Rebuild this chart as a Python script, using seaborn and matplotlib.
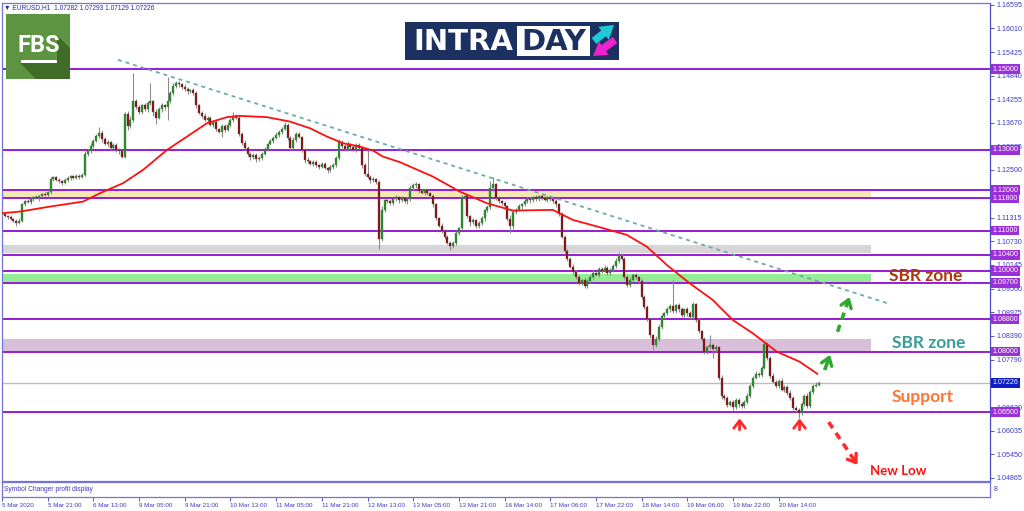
import numpy as np
import pandas as pd
import matplotlib
matplotlib.use("Agg")
import matplotlib.pyplot as plt
import seaborn as sns
from matplotlib.patches import Rectangle, Polygon

# ==================================
# data (EURUSD H1, prices in pips = price * 10000)
# ==================================
x_labels = ["5 Mar 2020", "5 Mar 21:00", "6 Mar 13:00", "9 Mar 05:00", "9 Mar 21:00",
            "10 Mar 13:00", "11 Mar 05:00", "11 Mar 21:00", "12 Mar 13:00", "13 Mar 05:00",
            "13 Mar 21:00", "16 Mar 14:00", "17 Mar 06:00", "17 Mar 22:00", "18 Mar 14:00",
            "19 Mar 06:00", "19 Mar 22:00", "20 Mar 14:00"]
x_label_bars = [0, 16, 32, 48, 64, 80, 96, 112, 128, 144, 160, 176, 192, 208, 224, 240, 256, 272]

first_open = 11142
close_pips = [
    11140, 11136, 11133, 11128, 11124, 11118, 11124, 11165, 11172, 11170,
    11178, 11182, 11180, 11186, 11190, 11188, 11195, 11228, 11232, 11226,
    11222, 11218, 11225, 11230, 11234, 11231, 11236, 11232, 11238, 11290,
    11296, 11310, 11322, 11335, 11342, 11328, 11315, 11320, 11305, 11312,
    11300, 11296, 11283, 11390, 11360, 11375, 11420, 11405, 11395, 11410,
    11400, 11415, 11420, 11395, 11380, 11400, 11410, 11405, 11420, 11440,
    11458, 11465, 11462, 11455, 11450, 11445, 11448, 11440, 11410, 11392,
    11385, 11375, 11380, 11362, 11368, 11352, 11345, 11360, 11350, 11362,
    11375, 11385, 11380, 11340, 11318, 11305, 11290, 11282, 11288, 11278,
    11280, 11290, 11302, 11315, 11322, 11330, 11338, 11345, 11352, 11362,
    11330, 11305, 11325, 11340, 11332, 11300, 11276, 11272, 11266, 11270,
    11262, 11258, 11265, 11255, 11250, 11258, 11262, 11280, 11320, 11310,
    11302, 11315, 11308, 11300, 11312, 11305, 11262, 11240, 11233, 11225,
    11228, 11220, 11080, 11150, 11175, 11172, 11168, 11178, 11182, 11175,
    11180, 11172, 11178, 11205, 11212, 11215, 11198, 11194, 11200, 11192,
    11185, 11165, 11130, 11112, 11100, 11085, 11070, 11062, 11068, 11095,
    11105, 11182, 11186, 11135, 11120, 11125, 11112, 11118, 11130, 11150,
    11158, 11205, 11215, 11180, 11172, 11168, 11160, 11128, 11110, 11145,
    11152, 11160, 11165, 11172, 11178, 11175, 11182, 11178, 11185, 11180,
    11176, 11182, 11178, 11172, 11165, 11140, 11085, 11050, 11030, 11010,
    10998, 10985, 10970, 10978, 10962, 10975, 10985, 10995, 10990, 11005,
    11000, 11008, 10995, 11002, 11012, 11025, 11038, 11030, 10985, 10965,
    10978, 10990, 10985, 10975, 10935, 10910, 10880, 10840, 10815, 10830,
    10862, 10888, 10895, 10905, 10912, 10900, 10915, 10905, 10890, 10905,
    10895, 10885, 10918, 10878, 10850, 10830, 10800, 10810, 10815, 10805,
    10810, 10735, 10690, 10685, 10668, 10675, 10662, 10680, 10670, 10665,
    10675, 10690, 10715, 10735, 10745, 10742, 10760, 10818, 10785, 10740,
    10725, 10715, 10728, 10705, 10712, 10698, 10685, 10660, 10655, 10648,
    10670, 10690, 10665, 10700, 10715, 10718, 10723,
]
wick_up = [
    3, 4, 2, 5, 3, 4, 6, 4, 3, 5,  4, 3, 5, 2, 4, 6, 3, 5, 4, 3,
    5, 3, 4, 6, 3, 4, 5, 3, 4, 8,  5, 6, 4, 5, 14, 6, 4, 5, 3, 6,
    4, 5, 3, 5, 6, 8, 70, 6, 5, 4,  6, 5, 45, 4, 6, 5, 7, 4, 60, 6,
    8, 5, 6, 4, 7, 5, 4, 6, 5, 4,  5, 6, 3, 5, 4, 6, 3, 5, 4, 6,
    5, 8, 4, 5, 3, 6, 4, 5, 3, 4,  5, 4, 6, 3, 5, 4, 6, 3, 5, 7,
    4, 5, 6, 4, 5, 3, 4, 5, 3, 4,  5, 3, 4, 6, 3, 4, 5, 4, 6, 5,
    4, 6, 3, 5, 4, 6, 3, 5, 60, 4,  5, 3, 4, 10, 5, 4, 6, 3, 5, 4,
    5, 4, 6, 8, 5, 6, 4, 5, 3, 6,  4, 5, 3, 4, 6, 3, 5, 4, 6, 5,
    4, 6, 5, 4, 3, 5, 4, 6, 5, 4,  5, 18, 18, 4, 6, 3, 5, 4, 10, 5,
    4, 6, 3, 5, 4, 6, 3, 5, 4, 6,  5, 4, 6, 3, 5, 4, 6, 3, 5, 4,
    6, 4, 5, 3, 6, 4, 5, 6, 3, 5,  4, 6, 3, 5, 4, 6, 8, 6, 5, 4,
    6, 5, 4, 3, 5, 4, 6, 5, 4, 8,  6, 5, 4, 6, 5, 65, 4, 6, 5, 4,
    6, 5, 4, 3, 5, 4, 6, 5, 25, 6,  5, 4, 6, 5, 4, 6, 5, 4, 6, 5,
    4, 6, 5, 4, 6, 5, 4, 6, 5, 4,  6, 5, 4, 6, 5, 4, 6, 5, 4, 6,
    5, 4, 6, 5, 4, 6, 3,
]
wick_dn = [
    4, 3, 5, 3, 4, 6, 3, 4, 5, 3,  5, 4, 3, 6, 4, 3, 5, 4, 6, 3,
    4, 5, 3, 4, 6, 3, 4, 5, 3, 4,  5, 4, 6, 3, 5, 8, 4, 5, 6, 4,
    5, 6, 4, 3, 12, 5, 5, 4, 6, 5,  4, 6, 5, 12, 15, 4, 5, 6, 30, 4,
    5, 4, 6, 5, 4, 6, 3, 5, 6, 4,  5, 4, 6, 3, 5, 6, 4, 12, 5, 4,
    6, 5, 4, 5, 6, 4, 5, 6, 4, 8,  5, 6, 4, 5, 3, 6, 4, 5, 6, 4,
    5, 6, 4, 5, 3, 6, 8, 5, 4, 6,  5, 6, 4, 3, 8, 5, 6, 4, 5, 6,
    4, 5, 6, 3, 5, 4, 6, 5, 4, 6,  5, 4, 25, 6, 5, 4, 6, 5, 4, 6,
    5, 4, 6, 5, 4, 6, 5, 4, 6, 5,  4, 6, 5, 4, 6, 5, 4, 10, 6, 4,
    5, 4, 6, 5, 10, 4, 6, 5, 4, 6,  5, 4, 6, 5, 4, 6, 5, 4, 15, 6,
    5, 4, 6, 5, 4, 6, 5, 4, 6, 5,  4, 6, 5, 4, 6, 5, 4, 6, 5, 4,
    6, 5, 4, 6, 5, 4, 6, 5, 4, 6,  5, 4, 6, 5, 4, 6, 5, 4, 6, 5,
    4, 6, 5, 4, 6, 5, 4, 6, 12, 5,  4, 6, 5, 4, 6, 5, 4, 6, 5, 4,
    6, 5, 4, 6, 5, 4, 6, 5, 4, 20,  6, 5, 8, 6, 5, 4, 6, 5, 8, 6,
    5, 4, 6, 5, 4, 6, 5, 4, 6, 5,  4, 6, 5, 4, 6, 5, 4, 6, 5, 12,
    5, 6, 4, 5, 6, 4, 3,
]

# red moving average at sample bars
ma_bar = [0, 6.3, 16.8, 28.4, 34.3, 42.4, 49.4, 57.8, 64.8, 71.8, 78.8, 83.3, 92.8,
          100.8, 107.8, 113.8, 119.4, 125.3, 129.9, 133.4, 139.3, 150.9, 160.3, 169.8,
          178.9, 192.9, 199.9, 209.3, 218.8, 225.8, 232.8, 240.8, 248.9, 255.9, 262.9,
          271.3, 279.3, 285.6]
ma_price = [1.11429, 1.11469, 1.11593, 1.11717, 1.11925, 1.12173, 1.12503, 1.12999,
            1.13329, 1.13661, 1.13810, 1.13842, 1.13810, 1.13701, 1.13537, 1.13329,
            1.13165, 1.13081, 1.12982, 1.12833, 1.12696, 1.12337, 1.11965, 1.11677,
            1.11494, 1.11511, 1.11263, 1.11082, 1.10891, 1.10601, 1.10147, 1.09693,
            1.09279, 1.08783, 1.08453, 1.07997, 1.07749, 1.07444]

trend_bar = [40.6, 310.1]
trend_price = [1.15231, 1.09197]

levels = [1.15000, 1.13000, 1.12000, 1.11800, 1.11000, 1.10400, 1.10000, 1.09700,
          1.08800, 1.08000, 1.06500]
current_price = 1.07226
zone_low = [1.1180, 1.1045, 1.0970, 1.0800]
zone_high = [1.1200, 1.1064, 1.0993, 1.0832]
zone_colors = ["#f3e7b3", "#d6d6d6", "#94ec94", "#d9c0da"]
zone_end_bar = 304.5

price_ticks = [1.16595, 1.16010, 1.15425, 1.14840, 1.14255, 1.13670, 1.13085, 1.12500,
               1.11315, 1.10730, 1.10145, 1.09560, 1.08975, 1.08390, 1.07790,
               1.06620, 1.06035, 1.05450, 1.04865]

# ==================================
# figure
# ==================================
sns.set_theme(style="white")
plt.rcParams['font.family'] = ['Liberation Sans', 'DejaVu Sans']

W, H = 1024, 511
fig = plt.figure(figsize=(W / 100, H / 100), dpi=100)
ax = fig.add_axes([2 / W, (H - 481) / H, 988 / W, 478 / H])
pax = fig.add_axes([2 / W, (H - 497) / H, 988 / W, 15 / H], sharex=ax)

frame = "#7373d9"
axis_blue = "#3a3ac4"

closes = np.array(close_pips) / 10000
opens = np.r_[first_open / 10000, closes[:-1]]
highs = np.maximum(opens, closes) + np.array(wick_up) / 10000
lows = np.minimum(opens, closes) - np.array(wick_dn) / 10000
bars = np.arange(len(closes))
up = closes >= opens

# zones
for lo, hi, c in zip(zone_low, zone_high, zone_colors):
    ax.fill_between([0, zone_end_bar], lo, hi, color=c, lw=0, zorder=1)

# level lines
for lv in levels:
    ax.axhline(lv, color="#9a1ad6", lw=1.4, zorder=2)
ax.axhline(current_price, color="#bdbdbd", lw=1.0, zorder=2)

# candles
ax.vlines(bars, lows, highs, color="#8a8a8a", lw=0.75, zorder=3)
body = np.maximum(np.abs(closes - opens), 0.00004)
ax.bar(bars, body, bottom=np.minimum(opens, closes), width=0.7,
       color=np.where(up, "#1e9b1e", "#8e0c0c"), edgecolor="#555555", lw=0.25, zorder=4)

# moving average and trend line
ma_df = pd.DataFrame({"bar": ma_bar, "price": ma_price})
sns.lineplot(data=ma_df, x="bar", y="price", color="#ff1010", lw=1.3, errorbar=None, ax=ax, zorder=5)
trend_df = pd.DataFrame({"bar": trend_bar, "price": trend_price})
sns.lineplot(data=trend_df, x="bar", y="price", color="#6eaaab", lw=1.3,
             linestyle=(0, (2.2, 2.2)), errorbar=None, ax=ax, zorder=5)

ax.set_xlim(0, 346)
ax.set_ylim(1.0479, 1.1664)
ax.set_xlabel("")
ax.set_ylabel("")

# right price axis
ax.yaxis.tick_right()
ax.set_yticks(price_ticks)
ax.set_yticklabels([f"{v:.5f}" for v in price_ticks])
ax.tick_params(axis="y", right=True, left=False, length=3, width=0.6, color=axis_blue,
               labelsize=5.1, labelcolor=axis_blue, pad=1.5)
ax.tick_params(axis="x", bottom=False, labelbottom=False)
for s in ax.spines.values():
    s.set_color(frame)
    s.set_linewidth(0.9)
ax.spines["right"].set_color("#4b4bd0")

box_kw = dict(xycoords=("axes fraction", "data"), xytext=(1.6, 0), textcoords="offset points",
              ha="left", va="center", fontsize=5.1, color="white", annotation_clip=False, zorder=10)
for lv in levels:
    ax.annotate(f"{lv:.5f}", xy=(1, lv),
                bbox=dict(boxstyle="square,pad=0.2", fc="#9b2fd8", ec="none"), **box_kw)
ax.annotate(f"{current_price:.5f}", xy=(1, current_price),
            bbox=dict(boxstyle="square,pad=0.2", fc="#0c1ec4", ec="none"), **box_kw)

# annotations
ax.text(323.6, 1.0987, "SBR zone", family="Lato", weight="bold", fontsize=12.5,
        color="#a9390f", ha="center", va="center", zorder=9)
ax.text(324.5, 1.0821, "SBR zone", family="Lato", weight="bold", fontsize=12.5,
        color="#3a9c9c", ha="center", va="center", zorder=9)
ax.text(322.5, 1.0688, "Support", family="Lato", weight="bold", fontsize=12.5,
        color="#ff7433", ha="center", va="center", zorder=9)
ax.text(313.8, 1.0504, "New Low", family="Lato", weight="bold", fontsize=9.5,
        color="#ff1111", ha="center", va="center", zorder=9)


def dashed_arrow(tail, head, color, frac=0.78):
    mid = (tail[0] + (head[0] - tail[0]) * frac, tail[1] + (head[1] - tail[1]) * frac)
    ax.plot([tail[0], mid[0]], [tail[1], mid[1]], color=color, lw=2.6,
            ls=(0, (2.0, 1.6)), solid_capstyle="butt", zorder=8)
    ax.annotate("", xy=head, xytext=mid,
                arrowprops=dict(arrowstyle="->,head_length=0.45,head_width=0.32", color=color,
                                lw=2.4, shrinkA=0, shrinkB=0), zorder=8)


dashed_arrow((288.1, 1.0754), (290.0, 1.0792), "#2ea82e", frac=0.45)
dashed_arrow((292.6, 1.0849), (296.8, 1.0935), "#2ea82e")
dashed_arrow((289.5, 1.0625), (299.6, 1.0519), "#ff2a2a")
for b in [258.3, 279.3]:
    ax.annotate("", xy=(b, 1.0634), xytext=(b, 1.0606),
                arrowprops=dict(arrowstyle="->,head_length=0.45,head_width=0.35", color="#ff2a2a",
                                lw=2.0, shrinkA=0, shrinkB=0), zorder=8)

# bottom sub window with time axis
pax.set_yticks([])
pax.set_xticks(x_label_bars)
pax.set_xticklabels(x_labels, ha="left")
pax.tick_params(axis="x", bottom=True, length=3, width=0.6, color=axis_blue, labelsize=4.5,
                labelcolor=axis_blue, pad=1.5)
for s in pax.spines.values():
    s.set_color(frame)
    s.set_linewidth(0.9)
pax.text(0.002, 0.5, "Symbol Changer profit display", transform=pax.transAxes,
         fontsize=4.8, color=axis_blue, va="center", ha="left")
fig.text(994 / W, 1 - 489 / H, "8", fontsize=5, color=axis_blue, va="center")

# header
fig.text(4 / W, 1 - 7.5 / H, "▼ EURUSD,H1  1.07282 1.07293 1.07129 1.07226", fontsize=4.8,
         color="#2b2ba0", va="center", ha="left")

# FBS logo
lax = fig.add_axes([6 / W, 1 - 79 / H, 64 / W, 65 / H])
lax.set_xlim(0, 64)
lax.set_ylim(65, 0)
lax.set_facecolor("#5d9441")
lax.add_patch(Polygon([(14, 49), (51, 49), (51, 21), (64, 34), (64, 65), (30, 65)],
                      closed=True, fc="#3f6d27", ec="none"))
lax.text(32.5, 31, "FBS", family="Roboto", weight="bold", fontsize=17, color="white",
         ha="center", va="center")
lax.add_patch(Rectangle((15, 46), 36, 3, fc="white", ec="none"))
lax.set_xticks([])
lax.set_yticks([])
for s in lax.spines.values():
    s.set_visible(False)

# INTRADAY logo
iax = fig.add_axes([405 / W, 1 - 60 / H, 214 / W, 38 / H])
iax.set_xlim(0, 214)
iax.set_ylim(38, 0)
iax.set_facecolor("#1c3161")
iax.add_patch(Rectangle((112, 4), 73, 30, fc="white", ec="none"))
iax.text(58, 19.5, "INTRA", family="DejaVu Sans", weight="bold", fontsize=21, color="white",
         ha="center", va="center")
iax.text(148.5, 19.5, "DAY", family="DejaVu Sans", weight="bold", fontsize=21, color="#1c3161",
         ha="center", va="center")
iax.annotate("", xy=(209, 3), xytext=(189, 19),
             arrowprops=dict(arrowstyle="simple,head_width=1.0,head_length=0.8,tail_width=0.45",
                             color="#20c9d6", lw=0, shrinkA=0, shrinkB=0))
iax.annotate("", xy=(188, 34), xytext=(210, 18),
             arrowprops=dict(arrowstyle="simple,head_width=1.0,head_length=0.8,tail_width=0.45",
                             color="#ee22cc", lw=0, shrinkA=0, shrinkB=0))
iax.set_xticks([])
iax.set_yticks([])
for s in iax.spines.values():
    s.set_visible(False)

fig.savefig("out.png", dpi=100)
